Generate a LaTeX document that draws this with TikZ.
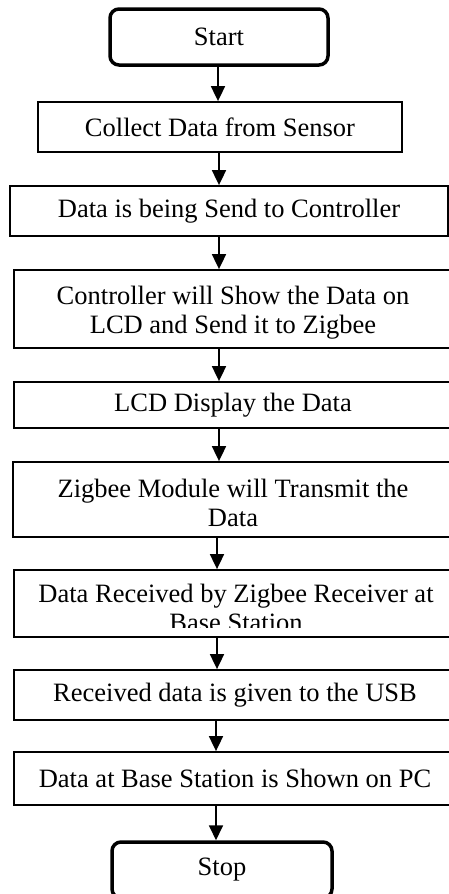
\documentclass[tikz,border=0pt]{standalone}
\usepackage{fontspec}
\setmainfont{Liberation Serif}
\usetikzlibrary{arrows.meta}
\tikzset{
  box/.style={draw=black, line width=1.8pt, rectangle, inner sep=0pt, align=center,
    font=\fontsize{26.5}{29}\selectfont},
  term/.style={draw=black, line width=3.5pt, rectangle, rounded corners=9pt, inner sep=0pt,
    align=center, font=\fontsize{26.5}{29}\selectfont},
  txt/.style={inner sep=0pt, align=center, font=\fontsize{26.5}{29}\selectfont},
  arr/.style={line width=1.8pt, -{Triangle[width=14pt,length=15pt]}}
}
\begin{document}
\begin{tikzpicture}[x=1pt,y=-1pt]
\useasboundingbox (0,0) rectangle (449,894);
\fill[white] (0,0) rectangle (449,894);

\node[term, minimum width=218pt, minimum height=56pt] (start) at (219,37) {\raisebox{-3pt}{Start}};
\node[box, minimum width=364pt, minimum height=50pt] (collect) at (220,127) {\raisebox{-2pt}{Collect Data from Sensor}};
\node[box, minimum width=438pt, minimum height=50pt] (send) at (229,211) {\raisebox{-2pt}{Data is being Send to Controller}};
\node[box, minimum width=438pt, minimum height=78pt] (ctrl) at (233,309) {};
\node[txt] (ctrltext) at (233,312.5) {Controller will Show the Data on\\LCD and Send it to Zigbee};
\node[box, minimum width=438pt, minimum height=46pt] (lcd) at (233,405) {\raisebox{-2pt}{LCD Display the Data}};
\node[box, minimum width=440pt, minimum height=75pt] (zig) at (233,499.5) {};
\node[txt] (zigtext) at (233,503) {Zigbee Module will Transmit the\\Data};
\node[box, minimum width=444pt, minimum height=67pt] (recv) at (236,603.5) {};
\begin{scope}
  \clip (0,571) rectangle (449,627);
  \node[txt] (recvtext) at (236,607.5) {Data Received by Zigbee Receiver at\\Base Station};
\end{scope}
\node[box, minimum width=442pt, minimum height=50pt] (usb) at (235,695) {\raisebox{-2pt}{Received data is given to the USB}};
\node[box, minimum width=442pt, minimum height=53pt] (pc) at (235,778.5) {\raisebox{-2pt}{Data at Base Station is Shown on PC}};
\node[term, minimum width=220pt, minimum height=56pt] (stop) at (222,870) {\raisebox{-1pt}{Stop}};

\coordinate (c1) at (218,0);
\coordinate (c2) at (219,0);
\coordinate (c3) at (217,0);
\coordinate (c4) at (216,0);

\draw[arr] (start.south -| c1) -- (collect.north -| c1);
\draw[arr] (collect.south -| c2) -- (send.north -| c2);
\draw[arr] (send.south -| c2) -- (ctrl.north -| c2);
\draw[arr] (ctrl.south -| c2) -- (lcd.north -| c2);
\draw[arr] (lcd.south -| c2) -- (zig.north -| c2);
\draw[arr] (zig.south -| c3) -- (recv.north -| c3);
\draw[arr] (recv.south -| c3) -- (usb.north -| c3);
\draw[arr] (usb.south -| c4) -- (pc.north -| c4);
\draw[arr] (pc.south -| c4) -- (stop.north -| c4);
\end{tikzpicture}
\end{document}
